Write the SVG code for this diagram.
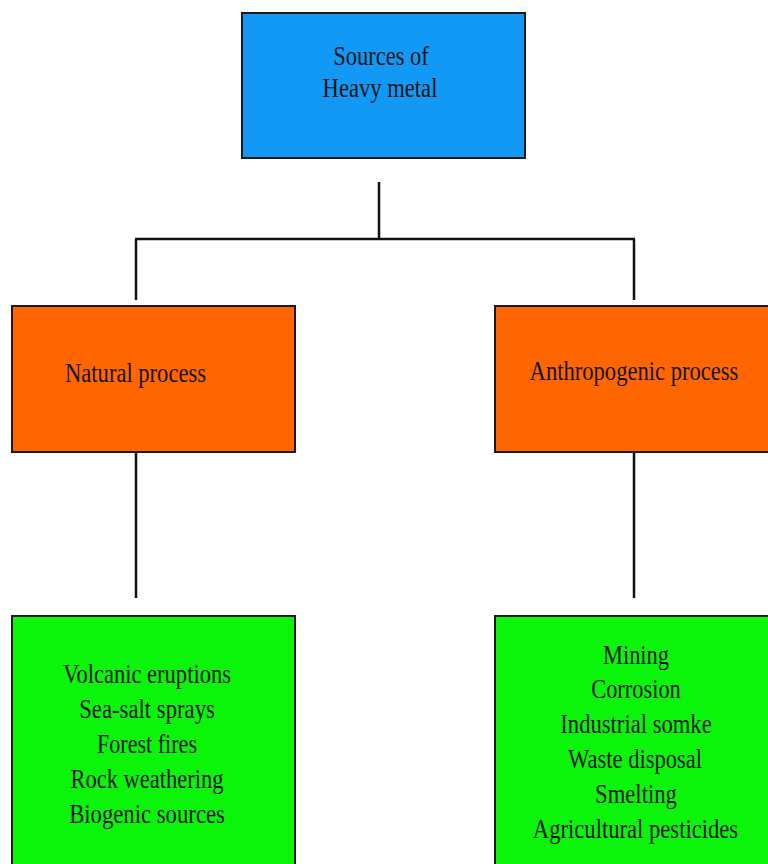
<svg xmlns="http://www.w3.org/2000/svg" width="768" height="864" viewBox="0 0 768 864">
<style>
.box{stroke:#1a1a1a;stroke-width:2}
.edge{stroke:#1a1a1a;stroke-width:2;fill:none}
.blue{fill:#1199F5}
.orange{fill:#FF6600}
.green{fill:#0AF50A}
.t{font-family:"Liberation Serif","Times New Roman",serif;font-size:27px;fill:#141414;text-anchor:middle}
.c{stroke:#111;stroke-width:2.5;fill:none}
</style>
<rect width="768" height="864" fill="#fff"/>
<g id="connectors">
<line class="c" x1="379" y1="182" x2="379" y2="239"/>
<line class="c" x1="135" y1="239" x2="635" y2="239"/>
<line class="c" x1="136" y1="239" x2="136" y2="300"/>
<line class="c" x1="634" y1="239" x2="634" y2="300"/>
<line class="c" x1="136" y1="452" x2="136" y2="598"/>
<line class="c" x1="634" y1="452" x2="634" y2="598"/>
</g>
<g id="root">
<rect class="box blue" x="242" y="13" width="283" height="145"/>
<text class="t" transform="translate(381 65) scale(0.87 1)" textLength="110" lengthAdjust="spacingAndGlyphs">Sources of</text>
<text class="t" transform="translate(380 97) scale(0.87 1)" textLength="132" lengthAdjust="spacingAndGlyphs">Heavy metal</text>
</g>
<g id="natural">
<rect class="box orange" x="12" y="306" width="283" height="146"/>
<text class="t" transform="translate(135.5 382) scale(0.87 1)" textLength="162" lengthAdjust="spacingAndGlyphs">Natural process</text>
</g>
<g id="anthropogenic">
<rect class="orange" x="495" y="306" width="273" height="146"/>
<path class="edge" d="M768,306 H495 V452 H768"/>
<text class="t" transform="translate(634 380) scale(0.87 1)" textLength="240" lengthAdjust="spacingAndGlyphs">Anthropogenic process</text>
</g>
<g id="natural-sources">
<rect class="green" x="12" y="616" width="283" height="248"/>
<path class="edge" d="M12,864 V616 H295 V864"/>
<text class="t" transform="translate(147 683) scale(0.87 1)" textLength="193" lengthAdjust="spacingAndGlyphs">Volcanic eruptions</text>
<text class="t" transform="translate(147 718) scale(0.87 1)" textLength="156" lengthAdjust="spacingAndGlyphs">Sea-salt sprays</text>
<text class="t" transform="translate(147 753) scale(0.87 1)" textLength="115" lengthAdjust="spacingAndGlyphs">Forest fires</text>
<text class="t" transform="translate(147 788) scale(0.87 1)" textLength="176" lengthAdjust="spacingAndGlyphs">Rock weathering</text>
<text class="t" transform="translate(147 823) scale(0.87 1)" textLength="179" lengthAdjust="spacingAndGlyphs">Biogenic sources</text>
</g>
<g id="anthropogenic-sources">
<rect class="green" x="495" y="616" width="273" height="248"/>
<path class="edge" d="M495,864 V616 H768"/>
<text class="t" transform="translate(636 664) scale(0.87 1)" textLength="76" lengthAdjust="spacingAndGlyphs">Mining</text>
<text class="t" transform="translate(636 698) scale(0.87 1)" textLength="103" lengthAdjust="spacingAndGlyphs">Corrosion</text>
<text class="t" transform="translate(636 733) scale(0.87 1)" textLength="174" lengthAdjust="spacingAndGlyphs">Industrial somke</text>
<text class="t" transform="translate(635 768) scale(0.87 1)" textLength="154" lengthAdjust="spacingAndGlyphs">Waste disposal</text>
<text class="t" transform="translate(636 803) scale(0.87 1)" textLength="94" lengthAdjust="spacingAndGlyphs">Smelting</text>
<text class="t" transform="translate(635.5 838) scale(0.87 1)" textLength="236" lengthAdjust="spacingAndGlyphs">Agricultural pesticides</text>
</g>
</svg>
